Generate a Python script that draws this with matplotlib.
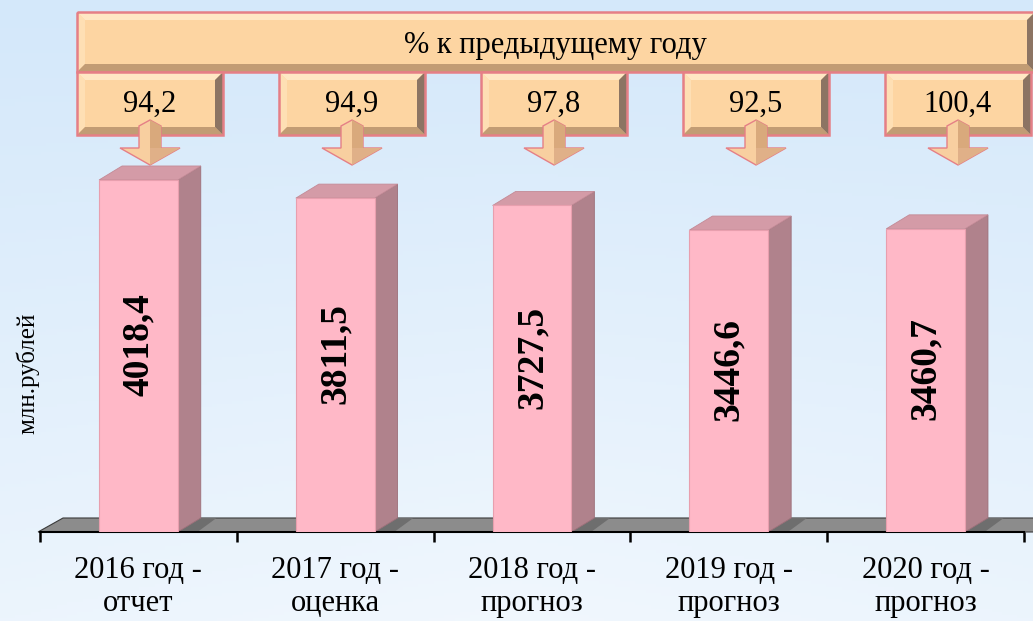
import numpy as np
import matplotlib
matplotlib.use("Agg")
import matplotlib.pyplot as plt
from matplotlib.patches import Polygon, Rectangle

plt.rcParams['font.family'] = ['Liberation Serif', 'DejaVu Serif']

categories = ['2016 год -\nотчет', '2017 год -\nоценка', '2018 год -\nпрогноз',
              '2019 год -\nпрогноз', '2020 год -\nпрогноз']
values = [4018.4, 3811.5, 3727.5, 3446.6, 3460.7]
value_labels = ['4018,4', '3811,5', '3727,5', '3446,6', '3460,7']
pct_labels = ['94,2', '94,9', '97,8', '92,5', '100,4']
banner_title = '% к предыдущему году'
y_title = 'млн.рублей'

W, H = 1033, 621
fig = plt.figure(figsize=(W / 100, H / 100), dpi=100)

# background gradient
bg = fig.add_axes([0, 0, 1, 1], zorder=-10)
yy, xx = np.mgrid[0:1:200j, 0:1:200j]
t = np.clip(0.75 * yy + 0.15 * (1 - np.abs(xx - 0.5) * 2) * yy, 0, 1)
c0 = np.array([212, 232, 250]) / 255
c1 = np.array([244, 249, 254]) / 255
img = c0[None, None, :] * (1 - t[..., None]) + c1[None, None, :] * t[..., None]
bg.imshow(img, extent=(0, 1, 0, 1), aspect='auto', origin='upper')
bg.axis('off')

# main axes: value 0 at pixel row 532, 0.0876 px per unit
px_per_unit = 0.0876
top_val = 532 / px_per_unit
ax = fig.add_axes([40 / W, (H - 532) / H, 984 / W, 532 / H])
ax.set_xlim(0, 5)
ax.set_ylim(0, top_val)
ax.patch.set_alpha(0)
for s in ['top', 'right', 'left']:
    ax.spines[s].set_visible(False)
ax.spines['bottom'].set_linewidth(1.5)
ax.set_yticks([])
ax.set_xticks(np.arange(6))
ax.set_xticklabels([])
ax.tick_params(axis='x', which='major', length=7, width=1.8, direction='out')
ax.set_xticks(np.arange(5) + 0.5, minor=True)
ax.set_xticklabels(categories, minor=True, fontsize=22, linespacing=1.22)
ax.tick_params(axis='x', which='minor', length=0, pad=17)

unit_x = 984 / 5  # px per category
dx = 23 / unit_x
dy = 14 / px_per_unit

# floor
fdx = 25 / unit_x
floor = Polygon([(-0.01, 0), (-0.01 + fdx, dy), (5.2, dy), (5.2 - fdx, 0)],
                closed=True, facecolor='#8c8c8c', edgecolor='#3a3a3a', lw=0.8,
                clip_on=False, zorder=1)
ax.add_patch(floor)

bw = 0.4
for i, v in enumerate(values):
    c = i + 0.5
    l, r = c - bw / 2, c + bw / 2
    # shadow on floor
    ax.add_patch(Polygon([(r, 0), (r + dx, dy), (r + dx + 0.08, dy), (r + 0.1, 0)],
                         closed=True, facecolor='#6e6e6e', edgecolor='none', zorder=1.5))
    ax.add_patch(Polygon([(r, 0), (r + dx, dy), (r + dx, v + dy), (r, v)], closed=True,
                         facecolor='#b0828c', edgecolor='#9c6f79', lw=0.6, zorder=2))
    ax.add_patch(Polygon([(l, v), (l + dx, v + dy), (r + dx, v + dy), (r, v)], closed=True,
                         facecolor='#d49ba7', edgecolor='#c38a96', lw=0.6, zorder=2))
    ax.add_patch(Rectangle((l, 0), bw, v, facecolor='#ffb8c7', edgecolor='#e89fae',
                           lw=0.8, zorder=3))
    ax.text(c, v / 2 + 130, value_labels[i], rotation=90, ha='center', va='center',
            fontsize=27, fontweight='bold', zorder=4)

fig.text(28 / W, 1 - 373 / H, y_title, rotation=90, ha='center', va='center', fontsize=18)

# banner decorations in pixel coordinates
deco = fig.add_axes([0, 0, 1, 1], zorder=5)
deco.set_xlim(0, W)
deco.set_ylim(H, 0)
deco.axis('off')
deco.patch.set_alpha(0)


def bevel_box(x0, y0, x1, y1, b=8):
    deco.add_patch(Rectangle((x0, y0), x1 - x0, y1 - y0, facecolor='#fdd5a2',
                             edgecolor='none'))
    deco.add_patch(Polygon([(x0, y0), (x1, y0), (x1 - b, y0 + b), (x0 + b, y0 + b)],
                           facecolor='#ffe7c4', edgecolor='none'))
    deco.add_patch(Polygon([(x0, y0), (x0 + b, y0 + b), (x0 + b, y1 - b), (x0, y1)],
                           facecolor='#fedfb4', edgecolor='none'))
    deco.add_patch(Polygon([(x0, y1), (x0 + b, y1 - b), (x1 - b, y1 - b), (x1, y1)],
                           facecolor='#c29c74', edgecolor='none'))
    deco.add_patch(Polygon([(x1, y0), (x1, y1), (x1 - b, y1 - b), (x1 - b, y0 + b)],
                           facecolor='#8c7463', edgecolor='none'))
    deco.add_patch(Rectangle((x0, y0), x1 - x0, y1 - y0, facecolor='none',
                             edgecolor='#e57f86', lw=1.8))


bevel_box(77, 12, W + 2, 72)
deco.text(555, 45, banner_title, ha='center', va='center', fontsize=22)

for i, p in enumerate(pct_labels):
    cx = 150 + 202 * i
    bevel_box(cx - 73, 72, cx + 73, 135)
    deco.text(cx, 104, p, ha='center', va='center', fontsize=22)
    arrow = Polygon([(cx, 120), (cx - 11, 126), (cx - 11, 148), (cx - 30, 148), (cx, 165),
                     (cx + 30, 148), (cx + 11, 148), (cx + 11, 126)], closed=True,
                    facecolor='#f8cfa0', edgecolor='#e57f86', lw=1.0)
    deco.add_patch(arrow)
    deco.add_patch(Polygon([(cx, 120), (cx + 11, 126), (cx + 11, 148), (cx, 148)],
                           facecolor='#d9a97c', edgecolor='none'))
    deco.add_patch(Polygon([(cx, 148), (cx + 30, 148), (cx, 165)],
                           facecolor='#e0b088', edgecolor='none'))

fig.savefig('out.png', dpi=100)
